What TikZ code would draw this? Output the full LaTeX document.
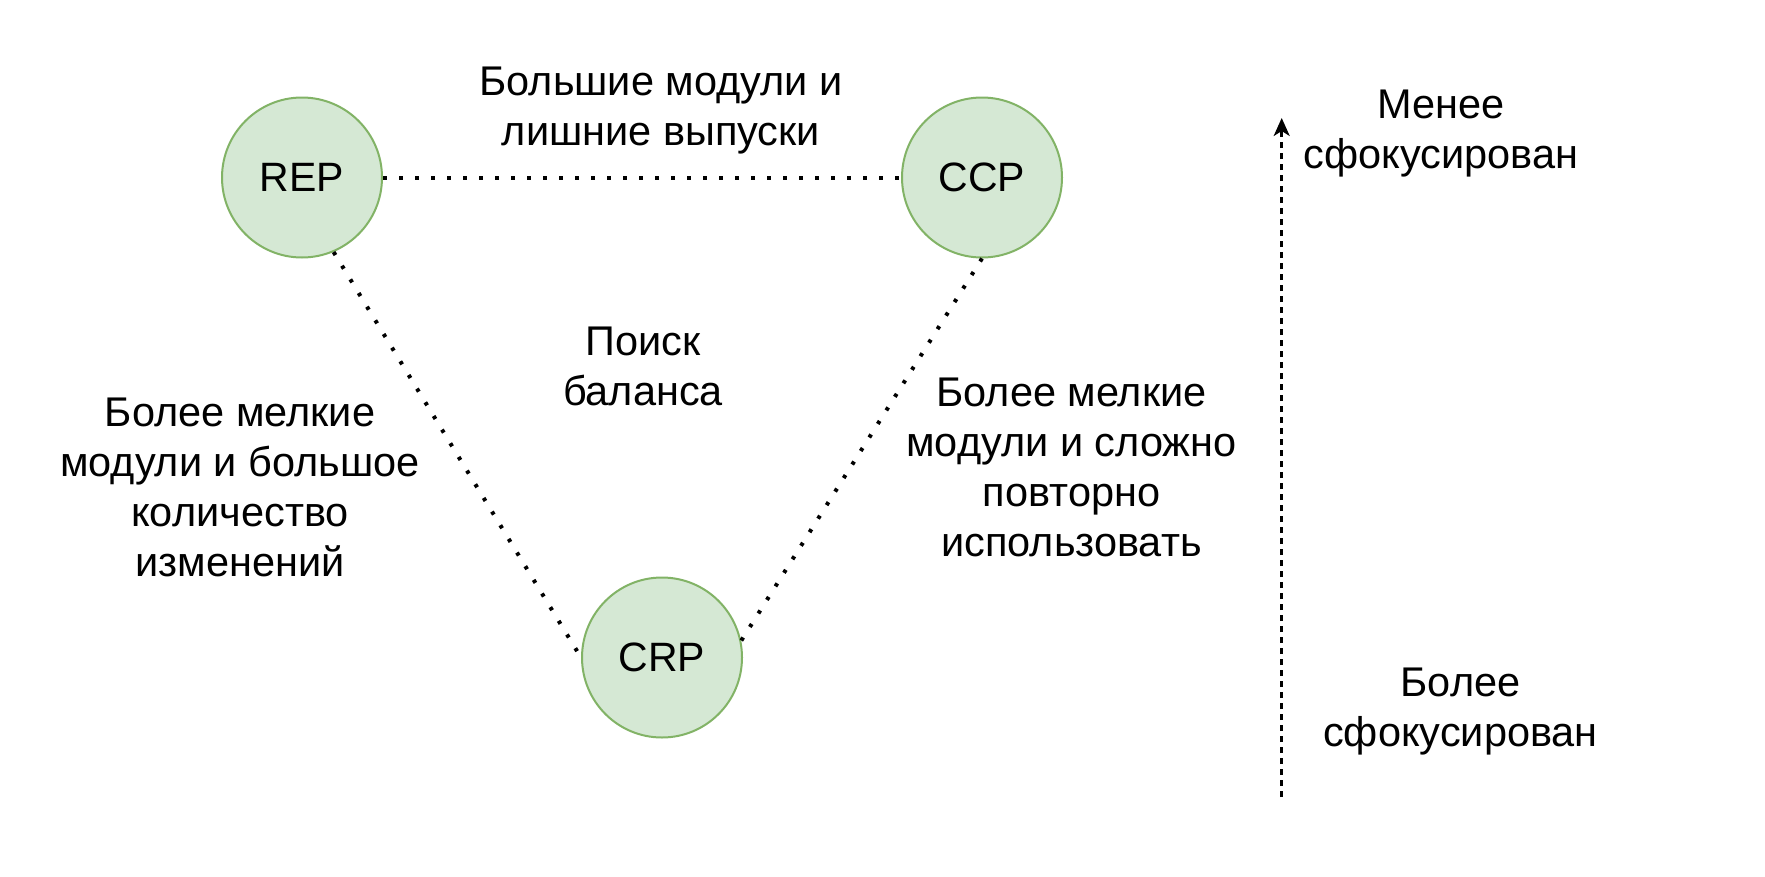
\documentclass[tikz,border=0pt]{standalone}
\usepackage{fontspec}
\setmainfont{Liberation Sans}
\usetikzlibrary{arrows.meta}
\definecolor{cfill}{HTML}{D5E8D4}
\definecolor{cdraw}{HTML}{82B366}
\tikzset{
  circ/.style={circle, draw=cdraw, fill=cfill, line width=2pt, minimum size=160pt, inner sep=0pt, font=\fontsize{41}{48}\selectfont},
  lbl/.style={align=center, font=\fontsize{41.5}{50}\selectfont, inner sep=0pt},
  dotline/.style={line width=4pt, dash pattern=on 3.5pt off 12.5pt, line cap=butt},
  axis/.style={line width=2.5pt, dash pattern=on 6pt off 5pt, -{Stealth[length=18pt,width=16pt,inset=5pt]}}
}
\begin{document}
\begin{tikzpicture}[x=1pt,y=-1pt]
\useasboundingbox[fill=white] (0,0) rectangle (1765,876);
\node[circ] (rep) at (302,177.5) {REP};
\node[circ] (ccp) at (982,177.5) {CCP};
\node[circ] (crp) at (662,657.5) {CRP};
\draw[dotline] (rep.east) -- (ccp.west);
\draw[dotline] (rep.-67) -- (crp.west);
\draw[dotline] (ccp.south) -- (crp.12);
\node[lbl, anchor=base] (t1) at (661,145) {Большие модули и\\лишние выпуски};
\node[lbl, anchor=base] (t2) at (643,405) {Поиск\\баланса};
\node[lbl, anchor=base] (t3) at (240,576) {Более мелкие\\модули и большое\\количество\\изменений};
\node[lbl, anchor=base] (t4) at (1071.5,556) {Более мелкие\\модули и сложно\\повторно\\использовать};
\node[lbl, anchor=base] (t5) at (1441,168) {Менее\\сфокусирован};
\node[lbl, anchor=base] (t6) at (1460.5,746) {Более\\сфокусирован};
\coordinate (abot) at (1281.7,797);
\coordinate (atop) at (1281.7,118);
\draw[axis] (abot) -- (atop);
\end{tikzpicture}
\end{document}
